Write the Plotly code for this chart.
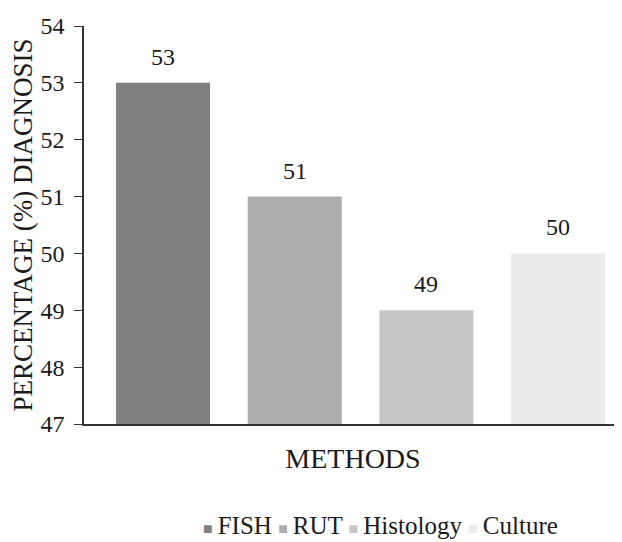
import plotly.graph_objects as go

methods = ["FISH", "RUT", "Histology", "Culture"]
percentages = [53, 51, 49, 50]
colors = ["#808080", "#adadad", "#c5c6c6", "#eaebeb"]

FONT = "Liberation Serif"
TXT = "#1a1a1a"

fig = go.Figure()
for i, (m, v, c) in enumerate(zip(methods, percentages, colors)):
    fig.add_trace(go.Bar(
        x=[i], y=[v - 47], base=47, name=m,
        marker=dict(color=c, line=dict(width=0)),
        width=0.714, showlegend=False, hoverinfo="skip",
    ))
    fig.add_annotation(x=i, y=v, text=str(v), showarrow=False, yanchor="bottom",
                       yshift=11, font=dict(family=FONT, size=24, color=TXT))

legend_text = " ".join(
    f"<span style='color:{c};font-size:16px'>■</span>\u2009{m}" for m, c in zip(methods, colors)
)
fig.add_annotation(xref="paper", yref="paper", x=0.552, y=-0.254, xanchor="center",
                   yanchor="middle", text=legend_text, showarrow=False,
                   font=dict(family=FONT, size=25, color=TXT))

fig.update_layout(
    width=614, height=534,
    margin=dict(l=76, r=0, t=18, b=118, pad=0),
    plot_bgcolor="white", paper_bgcolor="white",
    font=dict(family=FONT, size=20, color=TXT),
    barmode="overlay",
    xaxis=dict(
        range=[-0.6, 3.485], showticklabels=False, ticks="", automargin=False,
        showline=True, linecolor="#333", linewidth=1.5, showgrid=False, zeroline=False,
        title=dict(text="METHODS", font=dict(family=FONT, size=28, color=TXT), standoff=24),
    ),
    yaxis=dict(
        range=[47, 54], tickvals=[47, 48, 49, 50, 51, 52, 53, 54], ticks="outside",
        ticklen=8, tickcolor="#333", showline=True, linecolor="#333", linewidth=1.5,
        showgrid=False, zeroline=False, automargin=False, ticklabelstandoff=5,
        tickfont=dict(family=FONT, size=24, color=TXT),
        title=dict(text="PERCENTAGE (%) DIAGNOSIS", font=dict(family=FONT, size=27, color=TXT),
                   standoff=1),
    ),
    showlegend=False,
)
fig.write_html("out.html")
